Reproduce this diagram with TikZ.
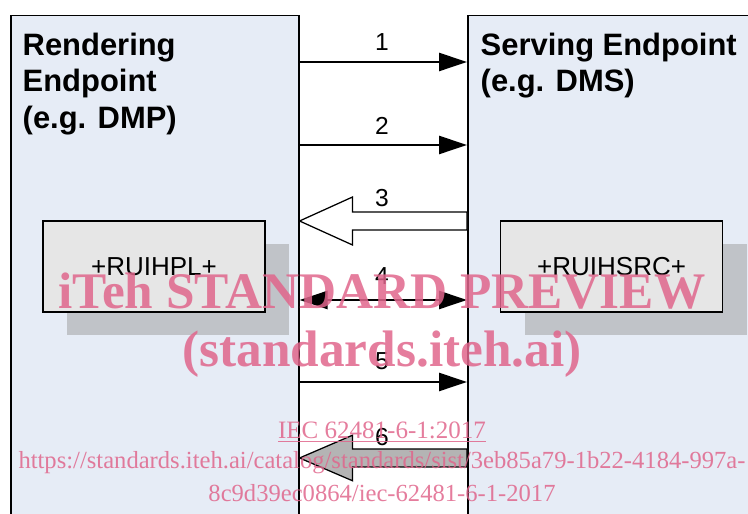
\documentclass[tikz,border=0pt]{standalone}
\usepackage{fontspec}
\setsansfont{Liberation Sans}
\newfontfamily\wmfont{Liberation Serif}
\usetikzlibrary{arrows.meta, calc, shadows}
\definecolor{cpanel}{HTML}{E6ECF6}
\definecolor{cunit}{HTML}{E6E6E6}
\definecolor{cshade}{HTML}{C0C3C8}
\definecolor{cgrey}{HTML}{B4B4B4}
\definecolor{cpink}{HTML}{E0668C}
\tikzset{
  every picture/.style={font=\sffamily, line width=1pt},
  endpoint/.style={draw=black, fill=cpanel, line width=1.1pt, anchor=north west, inner sep=0pt},
  title/.style={font=\sffamily\bfseries\fontsize{22}{26}\selectfont, align=left, anchor=north west, inner sep=0pt},
  unit/.style={draw=black, fill=cunit, line width=1.2pt, minimum width=5.55cm, minimum height=2.275cm, font=\sffamily\fontsize{18.5}{22}\selectfont, drop shadow={shadow xshift=0.6cm, shadow yshift=-0.575cm, fill=cshade, opacity=1}},
  arrow/.style={-{Triangle[length=0.7cm, width=0.45cm]}, line width=1.8pt},
  dblarrow/.style={{Triangle[length=0.7cm, width=0.45cm]}-{Triangle[length=0.7cm, width=0.45cm]}, line width=1.8pt},
  hollow/.style={draw=black, line width=0.9pt, line join=miter},
  num/.style={font=\sffamily\fontsize{17.5}{20}\selectfont, inner sep=0pt},
  wmark/.style={text=cpink, text opacity=0.85, anchor=base},
}
\begin{document}
\begin{tikzpicture}
  \useasboundingbox (0,0) rectangle (18.7,12.85);
  \clip (0,0) rectangle (18.7,12.85);
  % endpoints
  \node[endpoint, minimum width=7.2cm, minimum height=13cm] (rend) at (0.25,12.48) {};
  \node[endpoint, minimum width=7.9cm, minimum height=13cm] (serv) at (11.675,12.48) {};
  \node[title] (rendtxt) at (0.55,12.05) {Rendering\\Endpoint\\(e.g. DMP)};
  \node[title] (servtxt) at (12.0,12.05) {Serving Endpoint\\(e.g. DMS)};
  \node[unit] (hpl) at (3.85,6.19) {+RUIHPL+};
  \node[unit] (hsrc) at (15.29,6.19) {+RUIHSRC+};
  % message rows
  \coordinate (r1) at (0,11.3); \coordinate (r2) at (0,9.225);
  \coordinate (r3) at (0,7.325); \coordinate (r4) at (0,5.35);
  \coordinate (r5) at (0,3.3); \coordinate (r6) at (0,1.4);
  \draw[arrow] (rend.east |- r1) -- (serv.west |- r1);
  \draw[arrow] (rend.east |- r2) -- (serv.west |- r2);
  \draw[hollow, fill=white] (rend.east |- r3) -- ++(1.325,0.6) -- ++(0,-0.375)
    -- ([yshift=2.25mm]serv.west |- r3) -- ([yshift=-2.25mm]serv.west |- r3)
    -- ($(rend.east |- r3)+(1.325,-0.225)$) -- ++(0,-0.375) -- cycle;
  \draw[dblarrow] (rend.east |- r4) -- (serv.west |- r4);
  \draw[arrow] (rend.east |- r5) -- (serv.west |- r5);
  \draw[hollow, fill=cgrey] (rend.east |- r6) -- ++(1.325,0.57) -- ++(0,-0.345)
    -- ([yshift=2.25mm]serv.west |- r6) -- ([yshift=-2.25mm]serv.west |- r6)
    -- ($(rend.east |- r6)+(1.325,-0.225)$) -- ++(0,-0.345) -- cycle;
  \node[num] (n1) at (9.55,11.81) {1};
  \node[num] (n2) at (9.55,9.69) {2};
  \node[num] (n3) at (9.55,7.9) {3};
  \node[num] (n4) at (9.55,5.95) {4};
  \node[num] (n5) at (9.55,3.825) {5};
  \node[num] (n6) at (9.55,1.925) {6};
  % watermark
  \node[wmark, font=\wmfont\bfseries\fontsize{36.5}{40}\selectfont] (wm1) at (9.55,5.125) {iTeh STANDARD PREVIEW};
  \node[wmark, font=\wmfont\bfseries\fontsize{36.5}{40}\selectfont] (wm2) at (9.55,3.675) {(standards.iteh.ai)};
  \node[wmark, font=\wmfont\fontsize{17.8}{20}\selectfont] (wm3) at (9.55,1.875) {\underline{IEC 62481-6-1:2017}};
  \node[wmark, font=\wmfont\fontsize{17.5}{20}\selectfont] (wm4) at (9.55,1.125) {https://standards.iteh.ai/catalog/standards/sist/3eb85a79-1b22-4184-997a-};
  \node[wmark, font=\wmfont\fontsize{17.5}{20}\selectfont] (wm5) at (9.55,0.3) {8c9d39ec0864/iec-62481-6-1-2017};
\end{tikzpicture}
\end{document}
